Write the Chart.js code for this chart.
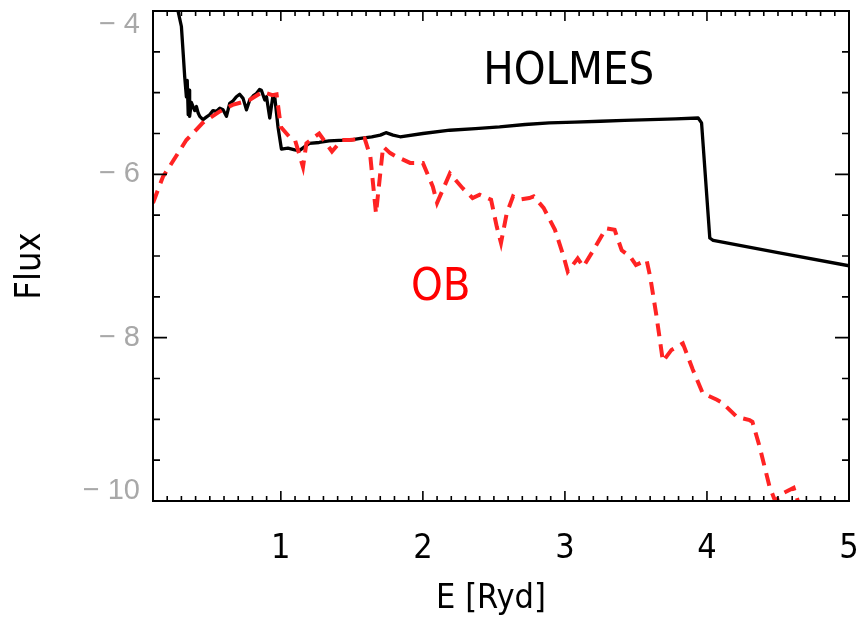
<!DOCTYPE html>
<html><head><meta charset="utf-8">
<script src="https://cdn.jsdelivr.net/npm/chart.js@4.4.1/dist/chart.umd.min.js"></script>
<style>html,body{margin:0;padding:0;background:#fff;overflow:hidden}canvas{display:block}</style>
</head><body>
<canvas id="c" width="859" height="619"></canvas>
<script>
// HOLMES spectrum (black solid)
const holmesE = [0.27,0.276,0.30,0.311,0.323,0.335,0.341,0.348,0.355,0.358,0.37,0.382,0.394,0.406,0.418,0.429,0.452,0.475,0.499,0.522,0.546,0.57,0.593,0.617,0.640,0.664,0.687,0.71,0.734,0.758,0.781,0.805,0.828,0.85,0.863,0.887,0.899,0.922,0.945,0.957,0.980,1.004,1.05,1.098,1.13,1.20,1.27,1.34,1.41,1.485,1.56,1.64,1.70,1.74,1.79,1.84,2.0,2.19,2.37,2.54,2.72,2.89,3.07,3.25,3.42,3.60,3.78,3.938,3.962,4.02,4.044,4.5,5.0];
const holmesFlux = [-3.9,-4.0,-4.19,-4.48,-4.80,-5.05,-4.85,-5.27,-4.97,-5.29,-5.12,-5.17,-5.22,-5.17,-5.25,-5.29,-5.33,-5.30,-5.27,-5.22,-5.23,-5.19,-5.21,-5.29,-5.13,-5.10,-5.05,-5.02,-5.07,-5.21,-5.09,-5.04,-5.01,-4.96,-4.97,-5.09,-5.05,-5.31,-5.03,-5.05,-5.42,-5.69,-5.68,-5.70,-5.71,-5.62,-5.61,-5.59,-5.585,-5.58,-5.56,-5.54,-5.52,-5.49,-5.52,-5.54,-5.50,-5.46,-5.44,-5.42,-5.39,-5.37,-5.36,-5.35,-5.34,-5.33,-5.32,-5.31,-5.37,-6.78,-6.81,-6.96,-7.12];
// OB spectrum (red dashed)
const obE = [0.1,0.17,0.24,0.335,0.45,0.57,0.66,0.78,0.87,0.94,0.97,1.0,1.06,1.10,1.156,1.18,1.27,1.36,1.43,1.485,1.59,1.63,1.67,1.72,1.77,1.81,1.91,2.0,2.07,2.10,2.19,2.28,2.35,2.40,2.48,2.52,2.55,2.59,2.635,2.68,2.75,2.78,2.85,2.93,2.99,3.02,3.09,3.13,3.20,3.29,3.35,3.40,3.46,3.50,3.575,3.60,3.645,3.69,3.75,3.83,3.90,3.97,4.07,4.11,4.21,4.30,4.32,4.37,4.44,4.48,4.54,4.61,4.64,4.68];
const obFlux = [-6.35,-6.03,-5.84,-5.58,-5.37,-5.23,-5.15,-5.09,-4.99,-5.03,-5.02,-5.42,-5.54,-5.58,-5.91,-5.62,-5.50,-5.72,-5.58,-5.58,-5.56,-5.78,-6.48,-5.66,-5.74,-5.78,-5.86,-5.86,-6.15,-6.35,-5.99,-6.17,-6.29,-6.25,-6.31,-6.64,-6.84,-6.48,-6.27,-6.31,-6.29,-6.27,-6.41,-6.68,-7.00,-7.19,-7.03,-7.13,-6.93,-6.66,-6.68,-6.93,-7.01,-7.11,-7.05,-7.25,-7.74,-8.29,-8.15,-8.07,-8.39,-8.68,-8.76,-8.80,-8.97,-9.01,-9.03,-9.33,-9.82,-10.0,-9.90,-9.84,-10.0,-10.3];
const xTickValues = [1,2,3,4,5];
const yTickValues = [-4,-6,-8,-10];
const xMin = 0.1, xMax = 5, yMin = -10, yMax = -4;
const xMinorStep = 0.1, yMinorStep = 0.5;

const toPts = (xs, ys) => xs.map((x, i) => ({x: x, y: ys[i]}));

const framePlugin = {
  id: 'frame',
  afterDraw(chart) {
    const ctx = chart.ctx, a = chart.chartArea;
    const xs = chart.scales.x, ys = chart.scales.y;
    ctx.save();
    ctx.strokeStyle = '#000';
    ctx.lineWidth = 2;
    ctx.strokeRect(a.left, a.top, a.right - a.left, a.bottom - a.top);
    ctx.lineWidth = 1.6;
    ctx.beginPath();
    const nx = Math.round((xMax - xMin) / xMinorStep);
    for (let i = 1; i < nx; i++) {
      const v = xMin + i * xMinorStep;
      const major = Math.abs(v - Math.round(v)) < 1e-6;
      const L = major ? 10 : 5;
      const p = xs.getPixelForValue(v);
      ctx.moveTo(p, a.bottom); ctx.lineTo(p, a.bottom - L);
      ctx.moveTo(p, a.top); ctx.lineTo(p, a.top + L);
    }
    const ny = Math.round((yMax - yMin) / yMinorStep);
    for (let i = 1; i < ny; i++) {
      const v = yMin + i * yMinorStep;
      const major = Math.abs(v / 2 - Math.round(v / 2)) < 1e-6;
      const L = major ? 14 : 7;
      const p = ys.getPixelForValue(v);
      ctx.moveTo(a.left, p); ctx.lineTo(a.left + L, p);
      ctx.moveTo(a.right, p); ctx.lineTo(a.right - L, p);
    }
    ctx.stroke();
    // y tick labels
    ctx.fillStyle = '#a8a8a8';
    ctx.font = '29px "Liberation Sans"';
    ctx.textAlign = 'right';
    ctx.textBaseline = 'middle';
    yTickValues.forEach(v => {
      let p = ys.getPixelForValue(v);
      p = Math.min(Math.max(p, a.top + 14), a.bottom - 10);
      ctx.fillText('\u2212 ' + Math.abs(v), 140, p);
    });
    // axis titles
    ctx.fillStyle = '#000';
    ctx.textAlign = 'center';
    ctx.font = '34px "DejaVu Sans Condensed"';
    ctx.fillText('E [Ryd]', 491, 599);
    ctx.save();
    ctx.translate(31, 266);
    ctx.rotate(-Math.PI / 2);
    ctx.font = '36px "DejaVu Sans Condensed"';
    ctx.fillText('Flux', 0, 0);
    ctx.restore();
    // series labels
    ctx.font = '45px "DejaVu Sans Condensed"';
    ctx.fillStyle = '#000';
    ctx.fillText('HOLMES', xs.getPixelForValue(3.027), ys.getPixelForValue(-4.747));
    ctx.fillStyle = '#ff0000';
    ctx.fillText('OB', xs.getPixelForValue(2.126), ys.getPixelForValue(-7.40));
    ctx.restore();
  }
};

new Chart(document.getElementById('c'), {
  type: 'scatter',
  data: {
    datasets: [
      {label: 'OB', data: toPts(obE, obFlux), showLine: true, borderColor: 'rgb(255,35,35)', borderWidth: 4, borderDash: [13, 8], pointRadius: 0, tension: 0, fill: false},
      {label: 'HOLMES', data: toPts(holmesE, holmesFlux), showLine: true, borderColor: '#000', borderWidth: 3.3, pointRadius: 0, tension: 0, fill: false, borderJoinStyle: 'round'}
    ]
  },
  options: {
    responsive: false,
    animation: false,
    devicePixelRatio: 1,
    layout: {padding: {top: 11, right: 10, left: 0, bottom: 0}},
    plugins: {legend: {display: false}, tooltip: {enabled: false}},
    scales: {
      x: {
        type: 'linear', min: xMin, max: xMax,
        afterBuildTicks: s => { s.ticks = xTickValues.map(v => ({value: v})); },
        afterFit: s => { s.height = 118; s.paddingLeft = 0; s.paddingRight = 0; },
        grid: {display: false, drawTicks: false},
        border: {display: false},
        ticks: {color: '#000', font: {family: 'DejaVu Sans Condensed', size: 34}, padding: 28, maxRotation: 0, autoSkip: false, callback: v => String(v)}
      },
      y: {
        type: 'linear', min: yMin, max: yMax,
        afterFit: s => { s.width = 153; s.paddingTop = 0; s.paddingBottom = 0; },
        grid: {display: false, drawTicks: false},
        border: {display: false},
        ticks: {display: false}
      }
    }
  },
  plugins: [framePlugin]
});
</script>
</body></html>
